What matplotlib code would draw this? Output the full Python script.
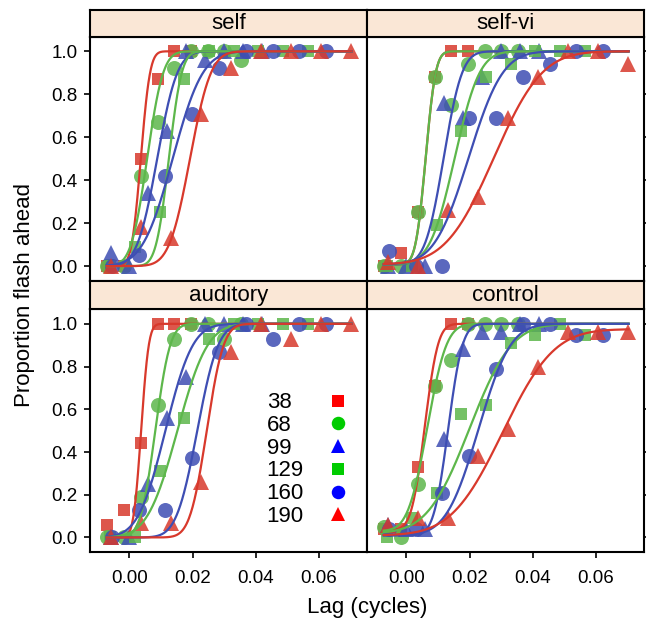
import math
import matplotlib
matplotlib.use("Agg")
import matplotlib.pyplot as plt
import numpy as np

plt.rcParams['font.family'] = ['Liberation Sans', 'DejaVu Sans']

panels = ['self', 'self-vi', 'auditory', 'control']
freqs = ['38', '68', '99', '129', '160', '190']

# lag values (cycles) tested at each frequency
lag_38 = [-0.0070, -0.0017, 0.0036, 0.0089, 0.0142, 0.0195]
lag_68 = [-0.0070, -0.0017, 0.0036, 0.0089, 0.0142, 0.0195, 0.0248, 0.0301, 0.0354]
lag_99 = [-0.0060, 0.0000, 0.0060, 0.0120, 0.0180, 0.0240, 0.0300, 0.0360, 0.0420]
lag_129 = [-0.0061, 0.0017, 0.0096, 0.0174, 0.0252, 0.0331, 0.0409, 0.0487, 0.0566]
lag_160 = [-0.0056, 0.0029, 0.0114, 0.0199, 0.0284, 0.0369, 0.0454, 0.0539, 0.0624]
lag_190 = [-0.0058, 0.0037, 0.0132, 0.0227, 0.0322, 0.0417, 0.0512, 0.0607, 0.0702]
lags = [lag_38, lag_68, lag_99, lag_129, lag_160, lag_190]

# proportion "flash ahead", one row per frequency (38 ... 190)
self_p = [
    [0.00, 0.00, 0.50, 0.87, 1.00, 1.00],
    [0.00, 0.00, 0.42, 0.67, 0.92, 1.00, 1.00, 1.00, 0.96],
    [0.06, 0.00, 0.34, 0.63, 1.00, 0.96, 1.00, 1.00, 1.00],
    [0.00, 0.09, 0.25, 0.87, 1.00, 1.00, 1.00, 1.00, 1.00],
    [0.00, 0.05, 0.42, 0.71, 0.92, 1.00, 1.00, 1.00, 1.00],
    [0.00, 0.18, 0.13, 0.71, 0.92, 1.00, 1.00, 1.00, 1.00],
]
selfvi_p = [
    [0.00, 0.06, 0.25, 0.88, 1.00, 1.00],
    [0.00, 0.00, 0.25, 0.88, 0.75, 0.94, 1.00, 1.00, 1.00],
    [0.00, 0.00, 0.00, 0.76, 0.69, 0.88, 1.00, 1.00, 1.00],
    [0.00, 0.00, 0.19, 0.63, 0.88, 0.94, 1.00, 1.00, 1.00],
    [0.07, 0.00, 0.00, 0.69, 0.69, 0.88, 0.94, 1.00, 1.00],
    [0.02, 0.00, 0.26, 0.32, 0.69, 0.88, 1.00, 1.00, 0.94],
]
auditory_p = [
    [0.06, 0.13, 0.44, 1.00, 1.00, 1.00],
    [0.00, 0.00, 0.19, 0.62, 0.93, 1.00, 1.00, 0.93, 1.00],
    [0.00, 0.00, 0.25, 0.56, 0.75, 1.00, 1.00, 1.00, 1.00],
    [0.00, 0.00, 0.31, 0.56, 0.93, 1.00, 1.00, 1.00, 1.00],
    [0.00, 0.13, 0.13, 0.37, 0.87, 1.00, 0.93, 1.00, 1.00],
    [0.00, 0.07, 0.07, 0.26, 0.87, 1.00, 0.93, 1.00, 1.00],
]
control_p = [
    [0.04, 0.04, 0.33, 0.71, 1.00, 1.00],
    [0.05, 0.00, 0.25, 0.71, 0.83, 1.00, 1.00, 1.00, 1.00],
    [0.06, 0.04, 0.04, 0.46, 0.88, 0.96, 0.96, 1.00, 1.00],
    [0.00, 0.09, 0.21, 0.58, 0.62, 0.91, 0.95, 1.00, 0.95],
    [0.04, 0.04, 0.21, 0.38, 0.79, 1.00, 1.00, 0.95, 0.95],
    [0.06, 0.09, 0.09, 0.38, 0.51, 0.80, 0.96, 0.96, 0.96],
]

# fitted psychometric curves: 50% point and spread per frequency
self_mid = [0.0036, 0.0056, 0.0088, 0.0125, 0.0137, 0.0192]
self_sd = [0.0023, 0.0040, 0.0050, 0.0032, 0.0075, 0.0052]
selfvi_mid = [0.0061, 0.0061, 0.0118, 0.0153, 0.0197, 0.0277]
selfvi_sd = [0.0025, 0.0025, 0.0046, 0.0062, 0.0085, 0.0120]
auditory_mid = [0.0037, 0.0082, 0.0114, 0.0152, 0.0215, 0.0245]
auditory_sd = [0.0019, 0.0037, 0.0068, 0.0075, 0.0052, 0.0042]
control_mid = [0.0058, 0.0066, 0.0132, 0.0200, 0.0228, 0.0305]
control_sd = [0.0033, 0.0048, 0.0036, 0.0105, 0.0080, 0.0128]
control_floor = [0.035, 0.03, 0.01, 0.02, 0.01, 0.01]
control_top = [1.0, 1.0, 1.0, 1.0, 1.0, 0.975]

panel_p = [self_p, selfvi_p, auditory_p, control_p]
panel_mid = [self_mid, selfvi_mid, auditory_mid, control_mid]
panel_sd = [self_sd, selfvi_sd, auditory_sd, control_sd]
panel_floor = [[0.0] * 6, [0.008] * 6, [0.0] * 6, control_floor]
panel_top = [[1.0] * 6, [1.0] * 6, [1.0] * 6, control_top]

xticks = [0.00, 0.02, 0.04, 0.06]
xtick_labels = ['0.00', '0.02', '0.04', '0.06']
yticks = [0.0, 0.2, 0.4, 0.6, 0.8, 1.0]
ytick_labels = ['0.0', '0.2', '0.4', '0.6', '0.8', '1.0']

markers = ['s', 'o', '^', 's', 'o', '^']
msizes = [9, 10.8, 11.2, 9, 10.8, 11.2]
red, green, blue = '#D8392C', '#5DB74B', '#3E4EB3'
point_cols = [red, green, blue, green, blue, red]
key_cols = ['#FF0000', '#00CC00', '#0000FF', '#00CC00', '#0000FF', '#FF0000']

W, H = 646, 623
fig = plt.figure(figsize=(W / 100, H / 100), dpi=100)


def box(x0, y0, x1, y1):
    return [x0 / W, 1 - y1 / H, (x1 - x0) / W, (y1 - y0) / H]


col_edges = [(90, 367), (367, 644)]
row_edges = [(9.5, 36.7, 280.7), (280.7, 309.3, 552.0)]

phi = np.vectorize(lambda z: 0.5 * (1 + math.erf(z / math.sqrt(2))))
xs = np.linspace(-0.0072, 0.0704, 400)

for i, name in enumerate(panels):
    r, c = divmod(i, 2)
    x0, x1 = col_edges[c]
    s0, p0, p1 = row_edges[r]
    ax = fig.add_axes(box(x0, p0, x1, p1))
    sax = fig.add_axes(box(x0, s0, x1, p0))
    sax.set_facecolor('#FAE7D6')
    sax.set_xticks([])
    sax.set_yticks([])
    for sp in sax.spines.values():
        sp.set_linewidth(1.5)
    sax.text(0.5, 0.47, name, ha='center', va='center', fontsize=16,
             transform=sax.transAxes)

    for k in range(len(freqs)):
        col = point_cols[k]
        ax.plot(lags[k], panel_p[i][k], ls='none', marker=markers[k],
                ms=msizes[k], mfc=col, mec=col, mew=0, alpha=0.85, zorder=2)
        lo, hi = panel_floor[i][k], panel_top[i][k]
        ys = lo + (hi - lo) * phi((xs - panel_mid[i][k]) / panel_sd[i][k])
        ax.plot(xs, ys, color=col, lw=1.6, zorder=3)

    ax.set_xlim(-0.0125, 0.0753)
    ax.set_ylim(-0.068, 1.068)
    ax.set_xticks(xticks)
    ax.set_xticklabels(xtick_labels)
    ax.set_yticks(yticks)
    ax.set_yticklabels(ytick_labels)
    for sp in ax.spines.values():
        sp.set_linewidth(1.5)
    ax.tick_params(direction='out', length=4, width=1.2, labelsize=13.5)
    if r == 1:
        ax.tick_params(axis='x', bottom=True, labelbottom=True, pad=9)
    else:
        ax.tick_params(axis='x', bottom=False, labelbottom=False)
    if c == 0:
        ax.tick_params(axis='y', left=True, labelleft=True, right=False, pad=5)
    else:
        ax.tick_params(axis='y', left=False, labelleft=False, right=True,
                       labelright=False)

    if name == 'auditory':
        for k, f in enumerate(freqs):
            yk = 0.615 - 0.0935 * k
            ax.text(0.638, yk, f, ha='left', va='center', fontsize=16,
                    transform=ax.transAxes)
            ax.plot([0.895], [yk + 0.008], ls='none', marker=markers[k],
                    ms=msizes[k] * 0.9, mfc=key_cols[k], mec=key_cols[k],
                    mew=0, transform=ax.transAxes, clip_on=False)

fig.text(367 / W, 1 - 607 / H, 'Lag (cycles)', ha='center', va='center',
         fontsize=16)
fig.text(25 / W, 1 - 295 / H, 'Proportion flash ahead', ha='center',
         va='center', rotation=90, fontsize=16)

fig.savefig('out.png', dpi=100)
